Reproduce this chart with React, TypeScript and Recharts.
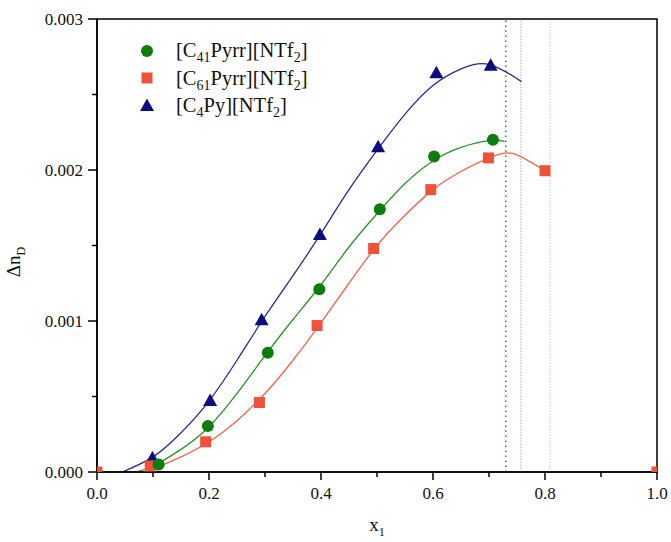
import {
  ComposedChart,
  Line,
  Scatter,
  XAxis,
  YAxis,
  ReferenceLine,
  ReferenceArea,
} from "recharts";

// measured points
const c41X = [0.11, 0.198, 0.305, 0.397, 0.505, 0.602, 0.707];
const c41Y = [0.00005, 0.000305, 0.00079, 0.00121, 0.00174, 0.00209, 0.0022];
const c61X = [0, 0.095, 0.194, 0.29, 0.393, 0.494, 0.596, 0.699, 0.8, 1.0];
const c61Y = [0, 0.00004, 0.0002, 0.00046, 0.00097, 0.00148, 0.00187, 0.00208, 0.001995, 0];
const c4X = [0.099, 0.202, 0.294, 0.398, 0.502, 0.606, 0.703];
const c4Y = [0.00009, 0.00047, 0.001005, 0.00157, 0.00215, 0.00264, 0.00269];

// fitted curves
const c41FitX = [0.07, 0.1, 0.15, 0.2, 0.25, 0.3, 0.35, 0.4, 0.45, 0.5, 0.55, 0.6, 0.65, 0.7, 0.728];
const c41FitY = [0, 0.00004, 0.00015, 0.0003, 0.00052, 0.00077, 0.00101, 0.00124, 0.00149, 0.00171, 0.00191, 0.00206, 0.00215, 0.002195, 0.00219];
const c61FitX = [0.085, 0.1, 0.15, 0.2, 0.25, 0.3, 0.35, 0.4, 0.45, 0.5, 0.55, 0.6, 0.65, 0.7, 0.725, 0.75, 0.8];
const c61FitY = [0, 0.00002, 0.0001, 0.0002, 0.00034, 0.00052, 0.00074, 0.00099, 0.00125, 0.0015, 0.0017, 0.00187, 0.00199, 0.00208, 0.00211, 0.0021, 0.001995];
const c4FitX = [0.045, 0.1, 0.15, 0.2, 0.25, 0.3, 0.35, 0.4, 0.45, 0.5, 0.55, 0.6, 0.65, 0.7, 0.758];
const c4FitY = [0, 0.0001, 0.00026, 0.00047, 0.00074, 0.00103, 0.0013, 0.00158, 0.00187, 0.00213, 0.00237, 0.00256, 0.00267, 0.0027, 0.002585];

// limits (dotted verticals)
const limitX = [0.73, 0.757, 0.809];

const xTicks = [0, 0.1, 0.2, 0.3, 0.4, 0.5, 0.6, 0.7, 0.8, 0.9, 1.0];
const xMajor = [0, 0.2, 0.4, 0.6, 0.8, 1.0];
const xLabels = ["0.0", "0.2", "0.4", "0.6", "0.8", "1.0"];
const yTicks = [0, 0.0005, 0.001, 0.0015, 0.002, 0.0025, 0.003];
const yMajor = [0, 0.001, 0.002, 0.003];
const yLabels = ["0.000", "0.001", "0.002", "0.003"];

// name segments: odd entries are subscripts
const legendNames = [
  ["[C", "41", "Pyrr][NTf", "2", "]"],
  ["[C", "61", "Pyrr][NTf", "2", "]"],
  ["[C", "4", "Py][NTf", "2", "]"],
];

const GREEN = "#0a7d0a";
const GREEN_LINE = "#2f8f2f";
const RED = "#ee5339";
const RED_LINE = "#f2644e";
const BLUE = "#0c0c80";
const BLUE_LINE = "#2a2a8e";

const font = "'Liberation Serif', 'Times New Roman', serif";

const zip = (xs: number[], ys: number[]) => xs.map((x, i) => ({ x, y: ys[i] }));

const c41 = zip(c41X, c41Y);
const c61 = zip(c61X, c61Y);
const c4 = zip(c4X, c4Y);
const c41Fit = zip(c41FitX, c41FitY);
const c61Fit = zip(c61FitX, c61FitY);
const c4Fit = zip(c4FitX, c4FitY);

const findLabel = (v: number, major: number[], labels: string[]) => {
  const i = major.findIndex((m) => Math.abs(m - v) < 1e-9);
  return i >= 0 ? labels[i] : null;
};

function XTick(props: any) {
  const { x, y, payload } = props;
  const label = findLabel(payload.value, xMajor, xLabels);
  return (
    <g>
      <line x1={x} x2={x} y1={y} y2={y + (label ? 8 : 5)} stroke="#000" strokeWidth={1.5} />
      {label && (
        <text x={x} y={y + 27} textAnchor="middle" fontFamily={font} fontSize={17} fill="#111">
          {label}
        </text>
      )}
    </g>
  );
}

function YTick(props: any) {
  const { x, y, payload } = props;
  const label = findLabel(payload.value, yMajor, yLabels);
  return (
    <g>
      <line x1={x} x2={x - (label ? 9 : 5)} y1={y} y2={y} stroke="#000" strokeWidth={1.5} />
      {label && (
        <text x={x - 14} y={y + 6} textAnchor="end" fontFamily={font} fontSize={17} fill="#111">
          {label}
        </text>
      )}
    </g>
  );
}

const Dot = (color: string) => (p: any) => <circle cx={p.cx} cy={p.cy} r={6} fill={color} />;
const Square = (color: string) => (p: any) => (
  <rect x={p.cx - 5.5} y={p.cy - 5.5} width={11} height={11} fill={color} />
);
const Tri = (color: string) => (p: any) => (
  <polygon points={`${p.cx},${p.cy - 7.5} ${p.cx - 7},${p.cy + 5} ${p.cx + 7},${p.cy + 5}`} fill={color} />
);

function Name({ parts }: { parts: string[] }) {
  return (
    <span>
      {parts.map((s, i) =>
        i % 2 ? (
          <sub key={i} style={{ fontSize: 14, verticalAlign: "-5px", lineHeight: 0 }}>
            {s}
          </sub>
        ) : (
          <span key={i}>{s}</span>
        )
      )}
    </span>
  );
}

const legendSymbols = [
  <circle cx={8} cy={8} r={6} fill={GREEN} />,
  <rect x={2.5} y={2.5} width={11} height={11} fill={RED} />,
  <polygon points="8,0.5 1,13 15,13" fill={BLUE} />,
];

export default function App() {
  return (
    <div style={{ position: "absolute", left: 0, top: 0, width: 671, height: 542, background: "#fff" }}>
      <ComposedChart width={671} height={542} margin={{ top: 19, right: 14, bottom: 0, left: 0 }}>
        <XAxis
          dataKey="x"
          type="number"
          domain={[0, 1]}
          ticks={xTicks}
          allowDataOverflow
          height={70}
          tickSize={0}
          tickMargin={0}
          tick={<XTick />}
          axisLine={{ stroke: "#000", strokeWidth: 1.5 }}
          label={{
            content: () => (
              <text x={377} y={531} textAnchor="middle" fontFamily={font} fontSize={19} fill="#111">
                x
                <tspan fontSize={12} dy={5}>
                  1
                </tspan>
              </text>
            ),
          }}
        />
        <YAxis
          dataKey="y"
          type="number"
          domain={[0, 0.003]}
          ticks={yTicks}
          allowDataOverflow
          width={97}
          tickSize={0}
          tickMargin={0}
          tick={<YTick />}
          axisLine={{ stroke: "#000", strokeWidth: 1.5 }}
          label={{
            content: () => (
              <text
                x={20}
                y={262}
                transform="rotate(-90 20 262)"
                textAnchor="middle"
                fontFamily={font}
                fontSize={19}
                fill="#111"
              >
                Δn
                <tspan fontSize={12} dy={5}>
                  D
                </tspan>
              </text>
            ),
          }}
        />
        <ReferenceArea x1={0} x2={1} y1={0} y2={0.003} fill="none" stroke="#000" strokeWidth={1.5} />
        <ReferenceLine x={limitX[0]} stroke="#2ea02e" strokeWidth={1.6} strokeDasharray="1.6 3.4" />
        <ReferenceLine x={limitX[1]} stroke="#a4a4e6" strokeWidth={1} strokeDasharray="1.5 1.5" />
        <ReferenceLine x={limitX[2]} stroke="#f6b4b4" strokeWidth={1} strokeDasharray="1.5 1.5" />

        <Line data={c61Fit} dataKey="y" type="natural" stroke={RED_LINE} strokeWidth={1.3} dot={false} isAnimationActive={false} />
        <Line data={c41Fit} dataKey="y" type="natural" stroke={GREEN_LINE} strokeWidth={1.3} dot={false} isAnimationActive={false} />
        <Line data={c4Fit} dataKey="y" type="natural" stroke={BLUE_LINE} strokeWidth={1.3} dot={false} isAnimationActive={false} />

        <Scatter data={c4} dataKey="y" shape={Tri(BLUE)} isAnimationActive={false} />
        <Scatter data={c61} dataKey="y" shape={Square(RED)} isAnimationActive={false} />
        <Scatter data={c41} dataKey="y" shape={Dot(GREEN)} isAnimationActive={false} />
      </ComposedChart>

      <div style={{ position: "absolute", left: 139, top: 37, fontFamily: font, fontSize: 20.5, color: "#111" }}>
        {legendNames.map((parts, i) => (
          <div key={i} style={{ display: "flex", alignItems: "center", height: 27.5 }}>
            <svg width={16} height={16} style={{ marginRight: 21 }}>
              {legendSymbols[i]}
            </svg>
            <Name parts={parts} />
          </div>
        ))}
      </div>
    </div>
  );
}
